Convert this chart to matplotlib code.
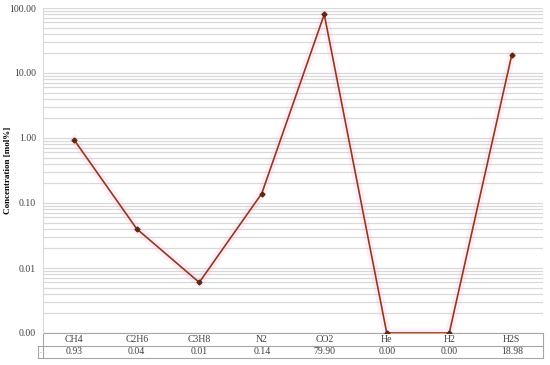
"""Gas composition (log scale) with a data table underneath."""

import matplotlib
matplotlib.use("Agg")
import matplotlib.pyplot as plt
import matplotlib.transforms as mtransforms
from matplotlib.ticker import LogLocator, FixedLocator, NullFormatter

plt.rcParams["font.family"] = ["Liberation Serif", "DejaVu Serif"]

# data (zero values sit on the axis floor 0.001)
gases = ["CH4", "C2H6", "C3H8", "N2", "CO2", "He", "H2", "H2S"]
conc = [0.93, 0.04, 0.006, 0.14, 79.90, 0.001, 0.001, 18.98]
ytick_vals = [0.001, 0.01, 0.1, 1, 10, 100]
ytick_labels = ["0.00", "0.01", "0.10", "1.00", "10.00", "100.00"]

LINE = "#8e3a1c"
GRID = "#d9d9d9"
TEXT = "#404040"

fig = plt.figure(figsize=(5.5, 3.65), dpi=100)
ax = fig.add_axes([43 / 550, 1 - 333 / 365, 500 / 550, 325 / 365])

x = list(range(len(gases)))
ax.plot(x, conc, color="#ffaadd", lw=6, alpha=0.2, solid_joinstyle="round", zorder=2)
ax.plot(x, conc, color=LINE, lw=1.2, marker="D", ms=2.5, mfc="#5a2a10", mec="#5a2a10", zorder=3)

ax.set_yscale("log")
ax.set_ylim(0.001, 100)
ax.set_xlim(-0.5, len(gases) - 0.5)
ax.yaxis.set_major_locator(FixedLocator(ytick_vals))
ax.set_yticklabels(ytick_labels)
ax.yaxis.set_minor_locator(LogLocator(base=10, subs=range(2, 10)))
ax.yaxis.set_minor_formatter(NullFormatter())
ax.grid(True, which="both", axis="y", color=GRID, lw=0.9)
ax.set_axisbelow(True)
ax.tick_params(axis="y", which="both", length=0, labelsize=7, labelcolor=TEXT, pad=5)
ax.set_xticks([])
for s in ["top", "right", "bottom"]:
    ax.spines[s].set_visible(False)
ax.spines["left"].set_color(GRID)
ax.set_ylabel("Concentration [mol%]", fontsize=6.5, fontweight="bold")
ax.yaxis.set_label_coords(-0.062, 0.5)

# data table below the plot
tr = mtransforms.blended_transform_factory(ax.transData, ax.transAxes)
row_h = 12.5 / 325
xl, xr = -0.5, len(gases) - 0.5
for yy in [0, -row_h, -2 * row_h]:
    ax.plot([xl, xr], [yy, yy], transform=tr, color="#a6a6a6", lw=0.8, clip_on=False)
ax.plot([xr, xr], [0, -2 * row_h], transform=tr, color="#a6a6a6", lw=0.8, clip_on=False)
ax.plot([xl, xl], [0, -2 * row_h], transform=tr, color="#a6a6a6", lw=0.8, clip_on=False)
# little legend-key cell at the left of the value row
kx = -5 / 62.5 - 0.5
ax.plot([kx, xl], [-row_h, -row_h], transform=tr, color="#a6a6a6", lw=0.8, clip_on=False)
ax.plot([kx, xl], [-2 * row_h, -2 * row_h], transform=tr, color="#a6a6a6", lw=0.8, clip_on=False)
ax.plot([kx, kx], [-row_h, -2 * row_h], transform=tr, color="#a6a6a6", lw=0.8, clip_on=False)
ax.text((kx + xl) / 2, -1.5 * row_h, ".", transform=tr, ha="center", va="center",
        fontsize=5, color=TEXT)
for i, (g, v) in enumerate(zip(gases, conc)):
    ax.text(i, -0.5 * row_h, g, transform=tr, ha="center", va="center",
            fontsize=7, color=TEXT)
    ax.text(i, -1.5 * row_h, f"{v:.2f}", transform=tr, ha="center", va="center",
            fontsize=7, color=TEXT)

fig.savefig("out.png", dpi=100)
